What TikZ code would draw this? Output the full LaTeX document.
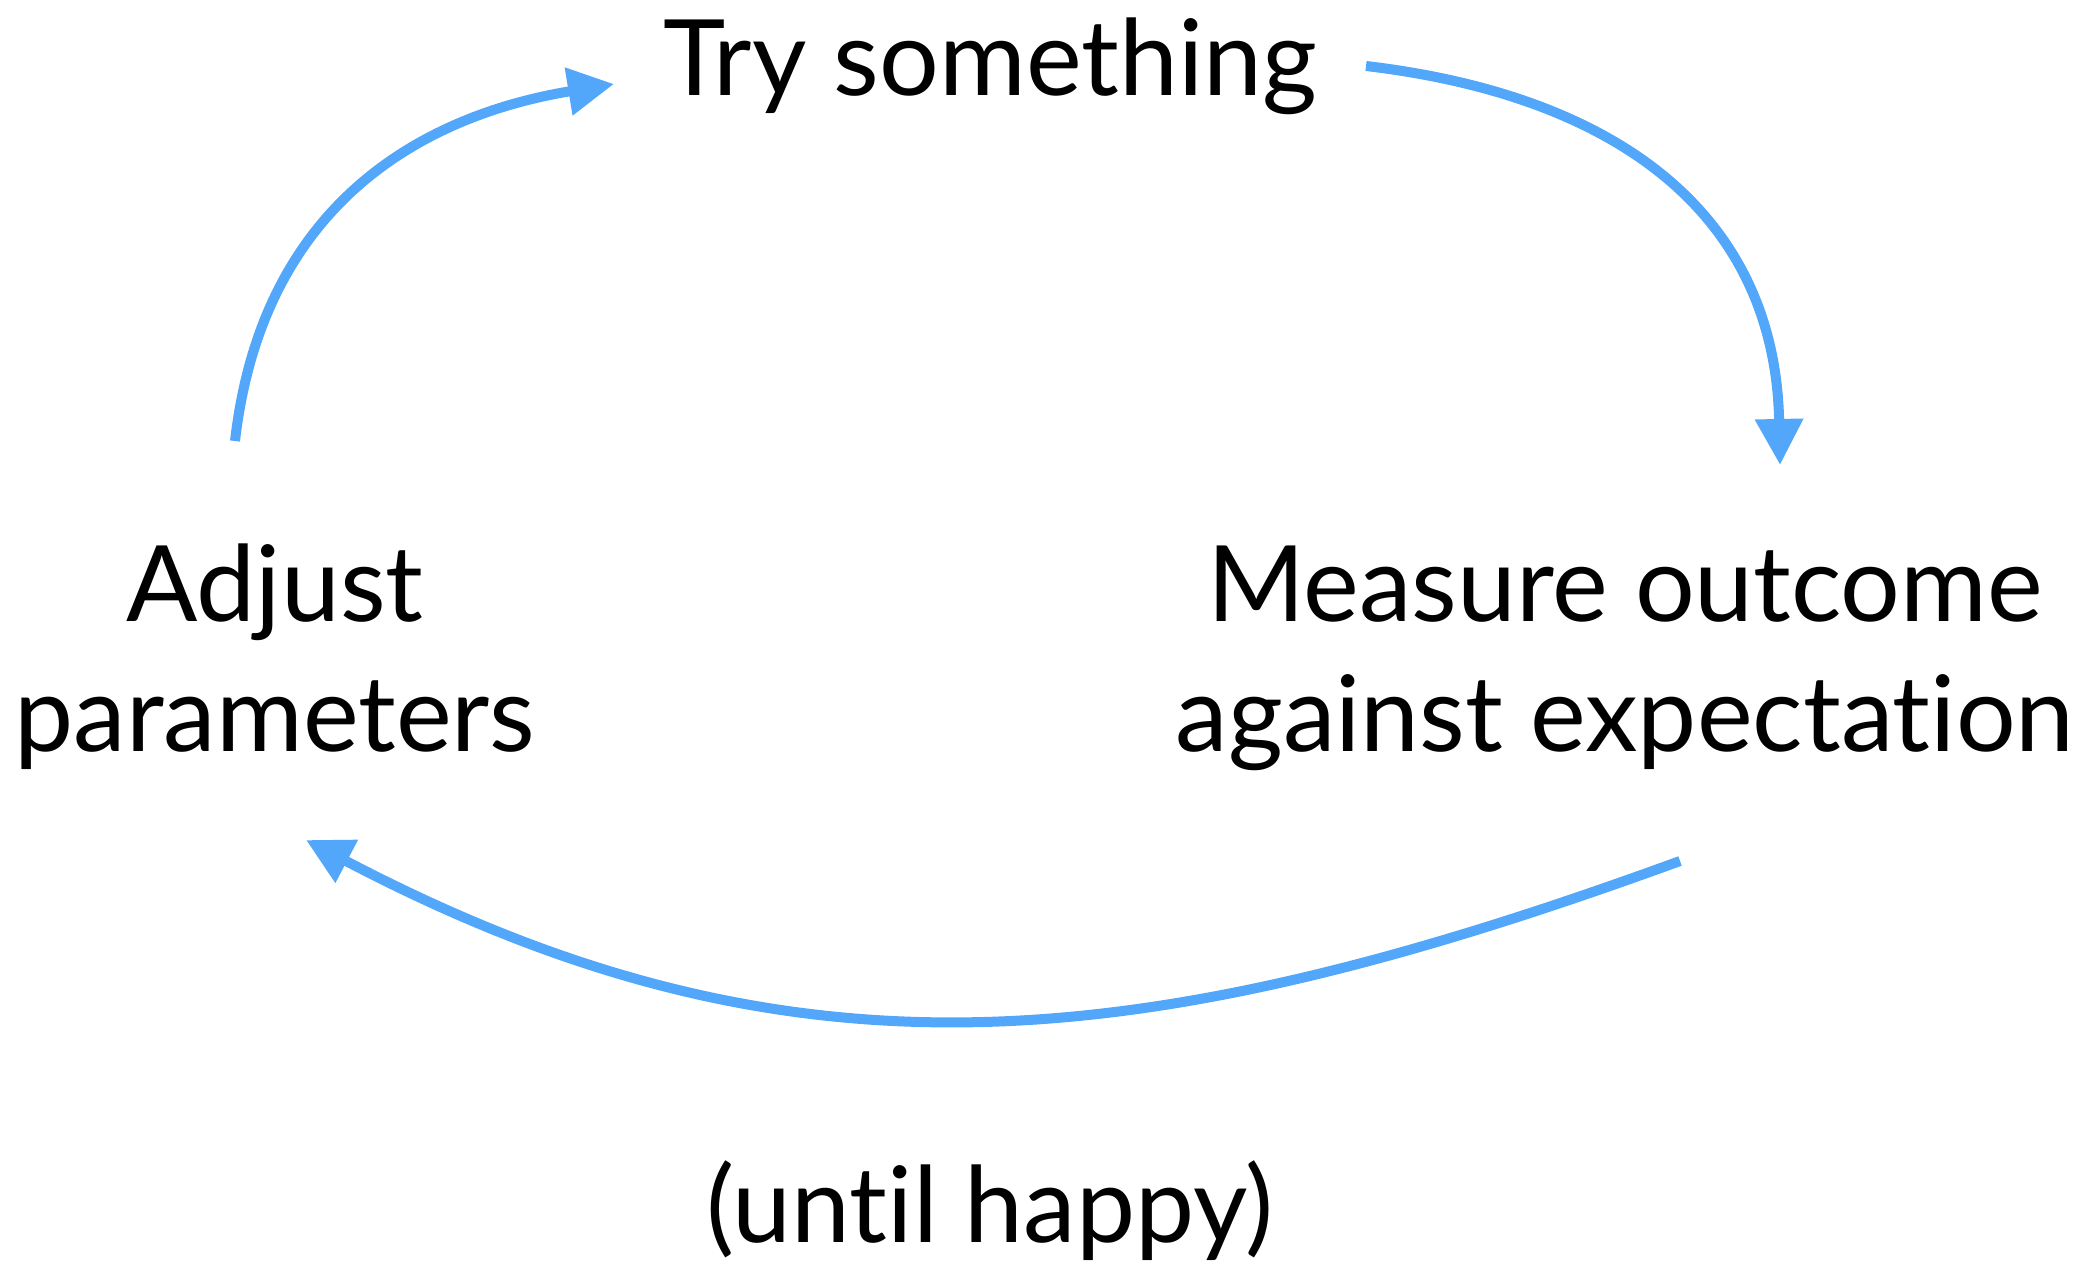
\documentclass[tikz,border=0pt]{standalone}
\usepackage{fontspec}
\setmainfont{Lato}[Ligatures=NoCommon]
\usepackage{tikz}
\usetikzlibrary{
  arrows.meta,
  positioning,
}
\definecolor{loopblue}{RGB}{82, 167, 250}
\tikzstyle{loop arrow} = [
  -{Triangle[length=0.46cm, width=0.46cm]},
  line width=0.1cm,
  loopblue,
]
\tikzstyle{step text} = [
  font=\fontsize{30}{36.7}\selectfont,
  align=center,
  inner sep=0pt,
]

\begin{document}
\begin{tikzpicture}[x=0.01cm, y=0.01cm]
  \useasboundingbox (0,0) rectangle (2083,1266);

  % Steps
  \node [step text, anchor=base] (try) at (990, 1170) {Try something};
  \node [step text, anchor=base] (adjust) at (275, 515) {Adjust\\parameters};
  \node [step text, anchor=base] (measure) at (1625, 515) {Measure outcome\\against expectation};
  \node [step text, anchor=base] (until) at (990, 24) {(until happy)};

  % Arrow ends
  \coordinate (adjust out) at (235, 825);
  \coordinate (try in) at (614, 1182);
  \coordinate (try out) at (1366, 1200);
  \coordinate (measure in) at (1780, 801);
  \coordinate (measure out) at (1680, 405);
  \coordinate (adjust in) at (306, 426);

  \draw [loop arrow] (adjust out) .. controls (262, 1060) and (420, 1150) .. (try in);
  \draw [loop arrow] (try out) .. controls (1620, 1170) and (1775, 1050) .. (measure in);
  \draw [loop arrow] (measure out) .. controls (1140, 208) and (790, 172) .. (adjust in);
\end{tikzpicture}
\end{document}
